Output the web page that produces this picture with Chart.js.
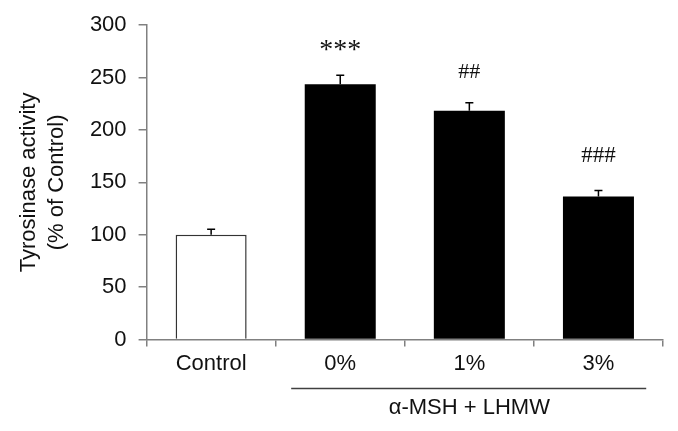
<!DOCTYPE html>
<html>
<head>
<meta charset="utf-8">
<script src="https://cdn.jsdelivr.net/npm/chart.js@4/dist/chart.umd.min.js"></script>
<style>
  html, body { margin: 0; padding: 0; background: #ffffff; }
  #wrap { width: 678px; height: 431px; position: relative; }
</style>
</head>
<body>
<div id="wrap"><canvas id="c" width="678" height="431"></canvas></div>
<script>
const categories = ["Control", "0%", "1%", "3%"];
const values = [100, 243.6, 218.4, 136.6];
const errors = [5.3, 8.6, 7.6, 5.7];
const significance = ["", "***", "##", "###"];
const barColors = ["#ffffff", "#000000", "#000000", "#000000"];
const yTicks = [0, 50, 100, 150, 200, 250, 300];
const yTitle = ["Tyrosinase activity", "(% of Control)"];
const groupLabel = "α-MSH + LHMW";
const groupStart = 1; // first category in group
const groupEnd = 3;   // last category in group

const FONT = "'Liberation Sans', Arial, Helvetica, sans-serif";
const SERIF = "'Liberation Serif', 'Times New Roman', serif";
const TEXT = "#111111";
const AXIS = "#808080";

const extrasPlugin = {
  id: 'extras',
  afterDatasetsDraw(chart) {
    const ctx = chart.ctx;
    const x = chart.scales.x, y = chart.scales.y;
    const meta = chart.getDatasetMeta(0);
    ctx.save();
    // error bars (upper only)
    ctx.strokeStyle = "#000000";
    ctx.lineWidth = 1.5;
    meta.data.forEach((bar, i) => {
      const cx = bar.x;
      const y0 = y.getPixelForValue(values[i]);
      const y1 = y.getPixelForValue(values[i] + errors[i]);
      ctx.beginPath();
      ctx.moveTo(cx, y0);
      ctx.lineTo(cx, y1);
      ctx.moveTo(cx - 4, y1);
      ctx.lineTo(cx + 4, y1);
      ctx.stroke();
      // significance marks
      const s = significance[i];
      if (s) {
        ctx.fillStyle = TEXT;
        ctx.textAlign = 'center';
        ctx.textBaseline = 'middle';
        if (s.indexOf('*') >= 0) {
          ctx.font = "28px " + SERIF;
          ctx.fillText(s, cx, y1 - 25);
        } else {
          ctx.font = (s.length > 2 ? 23 : 22) + "px " + SERIF;
          ctx.fillText(s, cx, y1 - 31 - (s.length - 2) * 4);
        }
      }
    });
    // group bracket
    const step = x.getPixelForValue(1) - x.getPixelForValue(0);
    const xs = x.getPixelForValue(groupStart) - 0.38 * step;
    const xe = x.getPixelForValue(groupEnd) + 0.37 * step;
    const by = y.bottom + 49;
    ctx.strokeStyle = "#404040";
    ctx.lineWidth = 1.5;
    ctx.beginPath();
    ctx.moveTo(xs, by);
    ctx.lineTo(xe, by);
    ctx.stroke();
    ctx.fillStyle = TEXT;
    ctx.font = "22px " + FONT;
    ctx.textAlign = 'center';
    ctx.textBaseline = 'middle';
    ctx.fillText(groupLabel, x.getPixelForValue((groupStart + groupEnd) / 2), by + 19);
    ctx.restore();
  }
};

new Chart(document.getElementById('c'), {
  type: 'bar',
  data: {
    labels: categories,
    datasets: [{
      data: values,
      backgroundColor: barColors,
      borderColor: "#333333",
      borderWidth: [1.5, 0, 0, 0],
      borderSkipped: 'bottom',
      barPercentage: 0.55,
      categoryPercentage: 1.0
    }]
  },
  options: {
    responsive: false,
    animation: false,
    devicePixelRatio: 1,
    layout: { padding: { left: 0, right: 15, top: 25, bottom: 50 } },
    plugins: { legend: { display: false }, tooltip: { enabled: false } },
    scales: {
      x: {
        grid: { display: true, offset: true, drawOnChartArea: false, drawTicks: true, tickLength: 7, color: AXIS, lineWidth: 1.5 },
        border: { display: true, color: AXIS, width: 1.5 },
        ticks: { color: TEXT, font: { family: FONT, size: 22 }, padding: 4, maxRotation: 0 }
      },
      y: {
        min: 0, max: 300,
        afterBuildTicks(scale) { scale.ticks = yTicks.map(v => ({ value: v })); },
        grid: { display: true, drawOnChartArea: false, drawTicks: true, tickLength: 8, color: AXIS, lineWidth: 1.5 },
        border: { display: true, color: AXIS, width: 1.5 },
        ticks: { color: TEXT, font: { family: FONT, size: 22 }, padding: 12 },
        title: {
          display: true,
          text: yTitle,
          color: TEXT,
          font: { family: FONT, size: 22, lineHeight: 1.27 },
          padding: { top: 15, bottom: 7 }
        }
      }
    }
  },
  plugins: [extrasPlugin]
});
</script>
</body>
</html>
